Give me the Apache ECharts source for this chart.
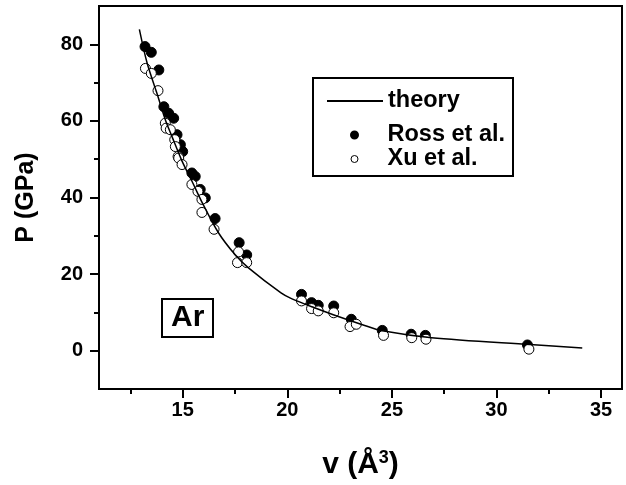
<!DOCTYPE html>
<html>
<head>
<meta charset="utf-8">
<script src="https://cdn.jsdelivr.net/npm/echarts@6/dist/echarts.min.js"></script>
<style>html,body{margin:0;padding:0;background:#fff}#c{width:626px;height:485px}</style>
</head>
<body>
<div id="c"></div>
<script>
// theory curve
var theoryV = [12.93,13.3,13.78,14.17,14.49,14.97,15.44,15.92,16.71,17.5,18.13,19.7,20.2,21.3,22.2,23.7,24.54,26.9,31.6,34.1];
var theoryP = [83.9,75.1,67.0,60.3,55.9,49.5,44.3,38.8,30.8,25.1,21.7,15.1,13.6,11.2,9.4,6.6,5.2,3.4,1.6,0.7];
// Ross et al. (filled)
var rossV = [13.2,13.5,13.86,14.1,14.33,14.57,14.73,14.89,15.0,15.44,15.6,15.84,16.08,16.55,17.7,18.06,20.68,21.16,21.48,22.22,23.06,24.54,25.92,26.6,31.48];
var rossP = [79.4,77.9,73.3,63.7,62.0,60.7,56.4,53.8,52.0,46.4,45.5,42.1,39.9,34.5,28.2,25.0,14.7,12.55,11.85,11.67,8.2,5.3,4.3,4.0,1.5];
// Xu et al. (open)
var xuV = [13.22,13.5,13.82,14.17,14.21,14.41,14.62,14.65,14.78,14.81,14.97,15.44,15.73,15.92,15.92,16.5,17.67,17.62,18.06,20.68,21.16,21.48,22.22,23.0,23.3,24.6,25.95,26.63,31.55];
var xuP = [73.7,72.4,67.9,59.4,58.1,57.7,55.1,53.3,50.7,50.3,48.6,43.4,41.6,39.5,36.1,31.7,25.8,23.0,23.0,13.0,11.0,10.4,9.9,6.3,6.9,4.0,3.4,3.0,0.4];
// ticks
var xMajor = [15,20,25,30,35];
var xMinor = [12.5,17.5,22.5,27.5,32.5];
var yMajor = [0,20,40,60,80];
var yMinor = [10,30,50,70];

function zip(a,b){return a.map(function(v,i){return [v,b[i]];});}
var FONT = '"Liberation Sans", Arial, sans-serif';
var chart = echarts.init(document.getElementById('c'), null, {renderer:'canvas'});
var tickStyle = {color:'#000', width:2};
var legText = {fontFamily:FONT, fontSize:23.5, fontWeight:'bold', color:'#000', lineHeight:24};
chart.setOption({
  animation:false,
  backgroundColor:'#fff',
  textStyle:{fontFamily:FONT},
  grid:{left:99, right:4, top:6, bottom:96, show:true, borderColor:'#000', borderWidth:2, backgroundColor:'transparent'},
  title:{text:'Ar', left:162, top:299, borderColor:'#000', borderWidth:2, padding:[4,9],
    textStyle:{fontFamily:FONT, fontSize:30, fontWeight:'bold', color:'#000', lineHeight:30}},
  graphic:[{type:'rect', shape:{x:313, y:78, width:200, height:98}, style:{fill:null, stroke:'#000', lineWidth:2}, z:10}],
  legend:[
    {data:[{name:'theory', itemStyle:{opacity:0, borderWidth:0}}], left:326, top:89, padding:0, itemWidth:56, itemHeight:12, itemGap:0,
      textStyle:legText},
    {data:[{name:'Ross et al.'},{name:'Xu et al.', itemStyle:{color:'#fff', borderColor:'#000', borderWidth:1}}],
      orient:'vertical', left:350, top:123, padding:0, itemWidth:56, itemHeight:7, itemGap:0,
      textStyle:legText}
  ],
  xAxis:[
    {type:'value', min:11, max:36, position:'bottom',
      axisLine:{show:true, onZero:false, lineStyle:{color:'#000', width:2}},
      axisTick:{show:true, customValues:xMajor, length:9, lineStyle:tickStyle},
      axisLabel:{customValues:xMajor, margin:11, fontFamily:FONT, fontSize:20, fontWeight:'bold', color:'#000'},
      splitLine:{show:false},
      name:'{a|v (Å}{s|3}{a|)}', nameLocation:'middle', nameGap:60,
      nameTextStyle:{fontFamily:FONT, fontSize:30, fontWeight:'bold', color:'#000',
        rich:{a:{fontFamily:FONT, fontSize:30, fontWeight:'bold', color:'#000'},
              s:{fontFamily:FONT, fontSize:18, fontWeight:'bold', color:'#000', verticalAlign:'top', padding:[0,0,14,0]}}}},
    {type:'value', min:11, max:36, position:'bottom',
      axisLine:{show:false, onZero:false},
      axisTick:{show:true, customValues:xMinor, length:5, lineStyle:tickStyle},
      axisLabel:{show:false}, splitLine:{show:false}}
  ],
  yAxis:[
    {type:'value', min:-10, max:90, position:'left',
      axisLine:{show:true, onZero:false, lineStyle:{color:'#000', width:2}},
      axisTick:{show:true, customValues:yMajor, length:9, lineStyle:tickStyle},
      axisLabel:{customValues:yMajor, margin:16, fontFamily:FONT, fontSize:20, fontWeight:'bold', color:'#000'},
      splitLine:{show:false},
      name:'P (GPa)', nameLocation:'middle', nameGap:60,
      nameTextStyle:{fontFamily:FONT, fontSize:25, fontWeight:'bold', color:'#000'}},
    {type:'value', min:-10, max:90, position:'left',
      axisLine:{show:false, onZero:false},
      axisTick:{show:true, customValues:yMinor, length:5, lineStyle:tickStyle},
      axisLabel:{show:false}, splitLine:{show:false}}
  ],
  series:[
    {name:'theory', type:'line', data:zip(theoryV, theoryP), showSymbol:false, symbol:'none', smooth:0.3,
      lineStyle:{color:'#000', width:1.5}, itemStyle:{color:'#000'}},
    {name:'Ross et al.', type:'scatter', data:zip(rossV, rossP), symbol:'circle', symbolSize:10,
      itemStyle:{color:'#000', borderColor:'#000', borderWidth:1, opacity:1}},
    {name:'Xu et al.', type:'scatter', data:zip(xuV, xuP), symbol:'circle', symbolSize:10,
      itemStyle:{color:'#fff', borderColor:'#000', borderWidth:1, opacity:1}}
  ]
});
</script>
</body>
</html>
